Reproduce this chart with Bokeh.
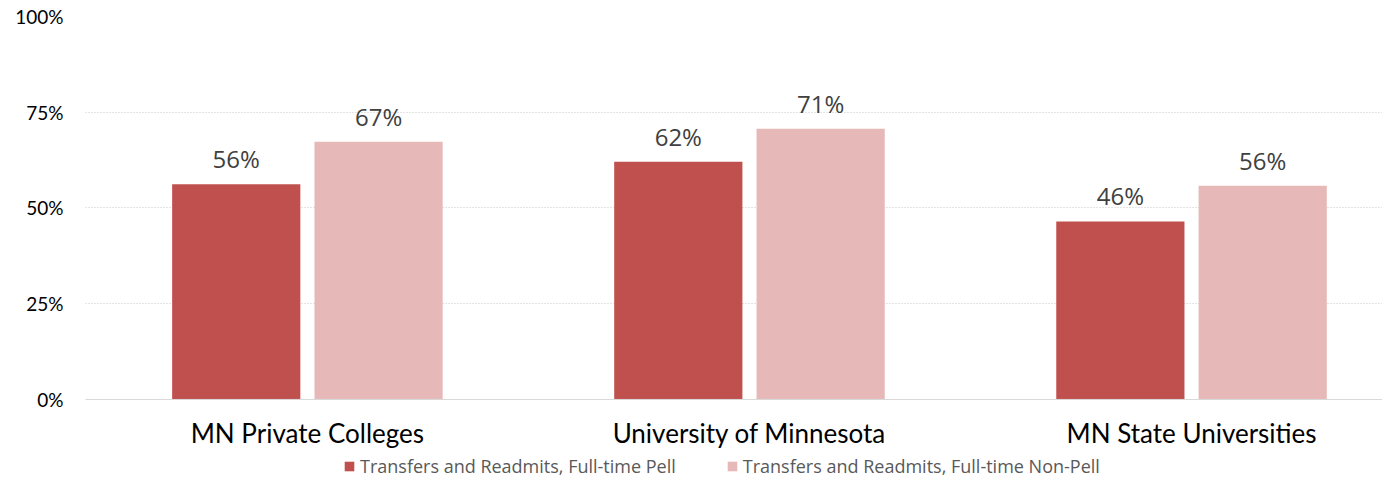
from bokeh.plotting import figure
from bokeh.models import (ColumnDataSource, FixedTicker, Range1d, Legend, LegendItem,
                          PrintfTickFormatter, LabelSet, Span)
from bokeh.core.properties import value
from bokeh.embed import file_html
from bokeh.resources import INLINE

categories = ["MN Private Colleges", "University of Minnesota", "MN State Universities"]
series_names = ["Transfers and Readmits, Full-time Pell", "Transfers and Readmits, Full-time Non-Pell"]
pell = [56.2, 62.1, 46.5]
non_pell = [67.3, 70.7, 55.8]
y_ticks = [0, 25, 50, 75, 100]

colors = ["#C0504D", "#E6B9B8"]
axis_font = "Lato"
offset = 0.161
bar_w = 0.29

p = figure(width=1382, height=479, output_backend="svg", toolbar_location=None,
           x_range=Range1d(-0.502, 2.432), y_range=Range1d(-20.9, 100),
           min_border_left=85, min_border_right=0, min_border_top=16, min_border_bottom=0)
p.outline_line_color = None

xs = list(range(len(categories)))
renderers = []
for i, (vals, col) in enumerate(zip([pell, non_pell], colors)):
    sx = [x + (-offset if i == 0 else offset) for x in xs]
    src = ColumnDataSource(dict(x=sx, top=vals, lab=[f"{round(v)}%" for v in vals]))
    r = p.vbar(x="x", top="top", bottom=0, width=bar_w, source=src, fill_color=col, line_color=None)
    renderers.append(r)
    ls = LabelSet(x="x", y="top", text="lab", source=src, text_align="center",
                  text_baseline="bottom", y_offset=9, text_font=value("Open Sans"),
                  text_font_size="24px", text_color="#404040")
    p.add_layout(ls)

# baseline
p.add_layout(Span(location=0, dimension="width", line_color="#D9D9D9", line_width=1))

# category labels
cat_src = ColumnDataSource(dict(x=xs, y=[0] * len(xs), name=categories))
p.add_layout(LabelSet(x="x", y="y", text="name", source=cat_src, text_align="center",
                      text_baseline="middle", y_offset=-34, text_font=value(axis_font),
                      text_font_size="26px", text_color="#000000"))

p.xaxis.visible = False

p.yaxis.ticker = FixedTicker(ticks=y_ticks)
p.yaxis.formatter = PrintfTickFormatter(format="%d%%")
p.yaxis.major_label_text_font = axis_font
p.yaxis.major_label_text_font_size = "19px"
p.yaxis.major_label_text_color = "#000000"
p.yaxis.major_label_standoff = 16
p.yaxis.major_tick_line_color = None
p.yaxis.minor_tick_line_color = None
p.yaxis.axis_line_color = None

p.xgrid.grid_line_color = None
p.ygrid.grid_line_color = "#C8C8C8"
p.ygrid.grid_line_dash = "1 2"
p.ygrid.grid_line_width = 1

legend = Legend(items=[LegendItem(label=n, renderers=[r]) for n, r in zip(series_names, renderers)],
                orientation="horizontal", location=(258, 1), spacing=50,
                label_text_font="Open Sans", label_text_font_size="18px",
                label_text_color="#595959", glyph_width=12, glyph_height=12,
                border_line_color=None, background_fill_alpha=0, padding=0, margin=0,
                label_standoff=5)
p.add_layout(legend, "center")

open("out.html", "w").write(file_html(p, INLINE))
